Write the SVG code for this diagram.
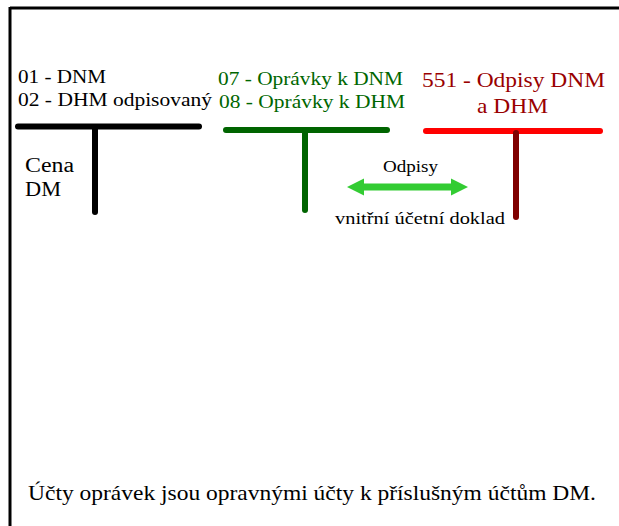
<svg xmlns="http://www.w3.org/2000/svg" width="619" height="526" viewBox="0 0 619 526" font-family="'Liberation Serif', 'Times New Roman', serif">
<defs>
<style>
.t { font-family: 'Liberation Serif', 'Times New Roman', serif; }
.blk { fill: #000000; }
.grn { fill: #006600; }
.red { fill: #990000; }
.bar { fill: none; stroke-linecap: round; stroke-width: 6; }
</style>
</defs>
<rect x="0" y="0" width="619" height="526" fill="#ffffff"/>
<g id="frame" fill="none" stroke="#000000" stroke-width="3">
<line x1="10" y1="8" x2="619" y2="8"/>
<line x1="10" y1="7" x2="10" y2="526"/>
</g>
<g id="account-dm">
<line class="bar" x1="18" y1="126.5" x2="199" y2="126.5" stroke="#000000"/>
<line class="bar" x1="95" y1="127" x2="95" y2="212" stroke="#000000" stroke-width="7"/>
<text class="t blk" font-size="19" x="18" y="83" textLength="88" lengthAdjust="spacingAndGlyphs">01 - DNM</text>
<text class="t blk" font-size="19" x="18" y="106" textLength="194" lengthAdjust="spacingAndGlyphs">02 - DHM odpisovaný</text>
<text class="t blk" font-size="20" x="25" y="172" textLength="49" lengthAdjust="spacingAndGlyphs">Cena</text>
<text class="t blk" font-size="20" x="25" y="196" textLength="36" lengthAdjust="spacingAndGlyphs">DM</text>
</g>
<g id="account-opravky">
<line class="bar" x1="226" y1="130" x2="387" y2="130" stroke="#006400"/>
<line class="bar" x1="305" y1="131" x2="305" y2="210" stroke="#006400" stroke-width="7"/>
<text class="t grn" font-size="19" x="218" y="85" textLength="185" lengthAdjust="spacingAndGlyphs">07 - Oprávky k DNM</text>
<text class="t grn" font-size="19" x="219" y="108" textLength="186" lengthAdjust="spacingAndGlyphs">08 - Oprávky k DHM</text>
</g>
<g id="account-odpisy">
<line class="bar" x1="426" y1="131" x2="600" y2="131" stroke="#ff0000" stroke-width="7"/>
<line class="bar" x1="516" y1="133" x2="516" y2="217" stroke="#800000" stroke-width="7"/>
<text class="t red" font-size="22" x="422" y="87" textLength="183" lengthAdjust="spacingAndGlyphs">551 - Odpisy DNM</text>
<text class="t red" font-size="22" x="477" y="113" textLength="71" lengthAdjust="spacingAndGlyphs">a DHM</text>
</g>
<g id="connectors">
<polygon fill="#33cc33" points="347,187 364,178.5 364,183.5 451,183.5 451,178.5 468,187 451,195.5 451,190.5 364,190.5 364,195.5"/>
<text class="t blk" font-size="17" x="383" y="172" textLength="55" lengthAdjust="spacingAndGlyphs">Odpisy</text>
<text class="t blk" font-size="17" x="335" y="224" textLength="170" lengthAdjust="spacingAndGlyphs">vnitřní účetní doklad</text>
</g>
<g id="note">
<text class="t blk" font-size="21" x="28" y="500" textLength="568" lengthAdjust="spacingAndGlyphs">Účty oprávek jsou opravnými účty k příslušným účtům DM.</text>
</g>
</svg>
